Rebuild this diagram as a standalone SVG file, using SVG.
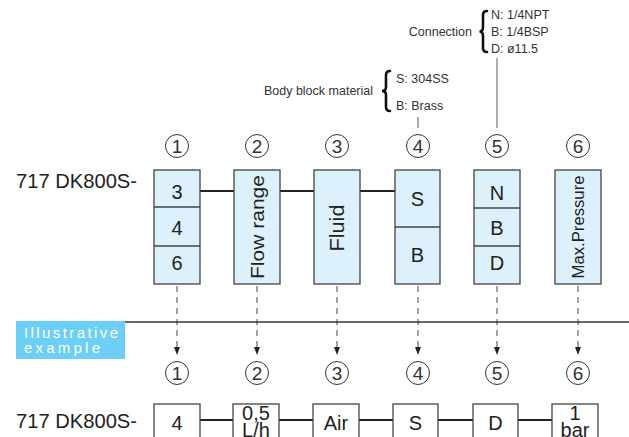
<svg xmlns="http://www.w3.org/2000/svg" width="629" height="437" viewBox="0 0 629 437">
<defs>
<style>
.t{font-family:"Liberation Sans",Arial,sans-serif;fill:#222;}
.ann{font-family:"Liberation Sans",Arial,sans-serif;font-size:12.5px;fill:#333;}
.box{fill:#dcf1fb;stroke:#444;stroke-width:1.3;}
.wbox{fill:#fff;stroke:#444;stroke-width:1.3;}
.div{stroke:#444;stroke-width:1.3;}
.conn{stroke:#222;stroke-width:2.2;fill:none;}
.dash{stroke:#666;stroke-width:1.2;stroke-dasharray:6 5;fill:none;}
.gl{stroke:#777;stroke-width:1.2;fill:none;}
.brace{stroke:#111;stroke-width:2.6;fill:none;stroke-linecap:round;}
.cc{fill:none;stroke:#333;stroke-width:1;}
.cn{font-family:"Liberation Sans",Arial,sans-serif;font-size:19px;fill:#333;text-anchor:middle;}
.bt{font-family:"Liberation Sans",Arial,sans-serif;font-size:20px;fill:#222;text-anchor:middle;}
</style>
</defs>
<rect width="629" height="437" fill="#fff"/>

<!-- annotations -->
<g id="connection-note">
<text class="ann" x="472" y="36" text-anchor="end">Connection</text>
<path class="brace" d="M487,11 Q483,11 483,15 L483,27 Q483,31.5 479.5,31.5 Q483,31.5 483,36 L483,48 Q483,52 487,52"/>
<text class="ann" x="491" y="19">N: 1/4NPT</text>
<text class="ann" x="491" y="36">B: 1/4BSP</text>
<text class="ann" x="491" y="53">D: ø11.5</text>
</g>
<g id="body-note">
<text class="ann" x="373" y="95" text-anchor="end">Body block material</text>
<path class="brace" d="M390,71 Q386,71 386,75 L386,87 Q386,91 382,91 Q386,91 386,95 L386,107 Q386,111 390,111"/>
<text class="ann" x="396" y="83">S: 304SS</text>
<text class="ann" x="396" y="110">B: Brass</text>
</g>

<!-- prefix -->
<text class="t" x="16" y="188" font-size="20.5" textLength="121" lengthAdjust="spacingAndGlyphs">717 DK800S-</text>
<text class="t" x="16" y="428" font-size="20.5" textLength="121" lengthAdjust="spacingAndGlyphs">717 DK800S-</text>

<!-- connectors -->
<g id="connectors">
<line class="gl" x1="418" y1="117" x2="418" y2="128"/>
<line class="gl" x1="497" y1="58" x2="497" y2="128"/>
<line class="conn" x1="200" y1="191" x2="234" y2="191"/>
<line class="conn" x1="280" y1="191" x2="314" y2="191"/>
<line class="conn" x1="360" y1="191" x2="395" y2="191"/>
<line class="dash" x1="177" y1="286" x2="177" y2="348"/>
<line class="dash" x1="257" y1="286" x2="257" y2="348"/>
<line class="dash" x1="337" y1="286" x2="337" y2="348"/>
<line class="dash" x1="418" y1="286" x2="418" y2="348"/>
<line class="dash" x1="497" y1="286" x2="497" y2="348"/>
<line class="dash" x1="578" y1="286" x2="578" y2="348"/>
<polygon points="174,347 180,347 177,355" fill="#222"/>
<polygon points="254,347 260,347 257,355" fill="#222"/>
<polygon points="334,347 340,347 337,355" fill="#222"/>
<polygon points="415,347 421,347 418,355" fill="#222"/>
<polygon points="494,347 500,347 497,355" fill="#222"/>
<polygon points="575,347 581,347 578,355" fill="#222"/>
<line class="conn" x1="200" y1="420" x2="233" y2="420"/>
<line class="conn" x1="279" y1="420" x2="313" y2="420"/>
<line class="conn" x1="359" y1="420" x2="393" y2="420"/>
<line class="conn" x1="438" y1="420" x2="473" y2="420"/>
<line class="conn" x1="518" y1="420" x2="552" y2="420"/>
</g>

<!-- separator -->
<line x1="125" y1="322" x2="629" y2="322" stroke="#333" stroke-width="1.4"/>
<g id="illustrative">
<rect x="16" y="321" width="109" height="38" fill="#6dcff6"/>
<text x="24" y="338" font-family="Liberation Sans,Arial,sans-serif" font-size="15" fill="#fff" textLength="94" lengthAdjust="spacing">Illustrative</text>
<text x="24" y="353" font-family="Liberation Sans,Arial,sans-serif" font-size="15" fill="#fff" textLength="76" lengthAdjust="spacing">example</text>
</g>

<!-- circled numbers -->
<g id="nums-top">
<circle class="cc" cx="177" cy="146" r="11.5"/><text class="cn" x="177" y="153">1</text>
<circle class="cc" cx="257" cy="146" r="11.5"/><text class="cn" x="257" y="153">2</text>
<circle class="cc" cx="337" cy="146" r="11.5"/><text class="cn" x="337" y="153">3</text>
<circle class="cc" cx="418" cy="146" r="11.5"/><text class="cn" x="418" y="153">4</text>
<circle class="cc" cx="497" cy="146" r="11.5"/><text class="cn" x="497" y="153">5</text>
<circle class="cc" cx="578" cy="146" r="11.5"/><text class="cn" x="578" y="153">6</text>
</g>
<g id="nums-bottom">
<circle class="cc" cx="177" cy="373" r="11.5"/><text class="cn" x="177" y="380">1</text>
<circle class="cc" cx="257" cy="373" r="11.5"/><text class="cn" x="257" y="380">2</text>
<circle class="cc" cx="337" cy="373" r="11.5"/><text class="cn" x="337" y="380">3</text>
<circle class="cc" cx="418" cy="373" r="11.5"/><text class="cn" x="418" y="380">4</text>
<circle class="cc" cx="497" cy="373" r="11.5"/><text class="cn" x="497" y="380">5</text>
<circle class="cc" cx="578" cy="373" r="11.5"/><text class="cn" x="578" y="380">6</text>
</g>

<!-- top boxes -->
<g id="box1">
<rect class="box" x="154" y="170" width="46" height="114"/>
<line class="div" x1="154" y1="207" x2="200" y2="207"/>
<line class="div" x1="154" y1="246" x2="200" y2="246"/>
<text class="bt" x="177" y="199">3</text>
<text class="bt" x="177" y="235">4</text>
<text class="bt" x="177" y="270">6</text>
</g>
<g id="box2">
<rect class="box" x="234" y="170" width="46" height="114"/>
<text class="t" transform="translate(264,227) rotate(-90)" font-size="19" text-anchor="middle" textLength="104" lengthAdjust="spacingAndGlyphs">Flow range</text>
</g>
<g id="box3">
<rect class="box" x="314" y="170" width="46" height="114"/>
<text class="t" transform="translate(344,228) rotate(-90)" font-size="20" text-anchor="middle" textLength="47" lengthAdjust="spacingAndGlyphs">Fluid</text>
</g>
<g id="box4">
<rect class="box" x="395" y="170" width="45" height="114"/>
<line class="div" x1="395" y1="227" x2="440" y2="227"/>
<text class="bt" x="417.5" y="206">S</text>
<text class="bt" x="417.5" y="262">B</text>
</g>
<g id="box5">
<rect class="box" x="474" y="170" width="46" height="114"/>
<line class="div" x1="474" y1="208" x2="520" y2="208"/>
<line class="div" x1="474" y1="246" x2="520" y2="246"/>
<text class="bt" x="497" y="200">N</text>
<text class="bt" x="497" y="235">B</text>
<text class="bt" x="497" y="270">D</text>
</g>
<g id="box6">
<rect class="box" x="555" y="170" width="46" height="114"/>
<text class="t" transform="translate(584,227) rotate(-90)" font-size="16" text-anchor="middle" textLength="103" lengthAdjust="spacingAndGlyphs">Max.Pressure</text>
</g>

<!-- bottom boxes -->
<g id="ex1">
<rect class="wbox" x="154" y="404" width="46" height="40"/>
<text class="bt" x="177" y="430">4</text>
</g>
<g id="ex2">
<rect class="wbox" x="233" y="404" width="46" height="40"/>
<text class="bt" x="256" y="420" font-size="18">0,5</text>
<text class="bt" x="256" y="437" font-size="18">L/h</text>
</g>
<g id="ex3">
<rect class="wbox" x="313" y="404" width="46" height="40"/>
<text class="bt" x="336" y="430">Air</text>
</g>
<g id="ex4">
<rect class="wbox" x="393" y="404" width="45" height="40"/>
<text class="bt" x="415.5" y="430">S</text>
</g>
<g id="ex5">
<rect class="wbox" x="473" y="404" width="45" height="40"/>
<text class="bt" x="495.5" y="430">D</text>
</g>
<g id="ex6">
<rect class="wbox" x="552" y="404" width="46" height="40"/>
<text class="bt" x="575" y="420" font-size="18">1</text>
<text class="bt" x="575" y="437" font-size="18">bar</text>
</g>
</svg>
